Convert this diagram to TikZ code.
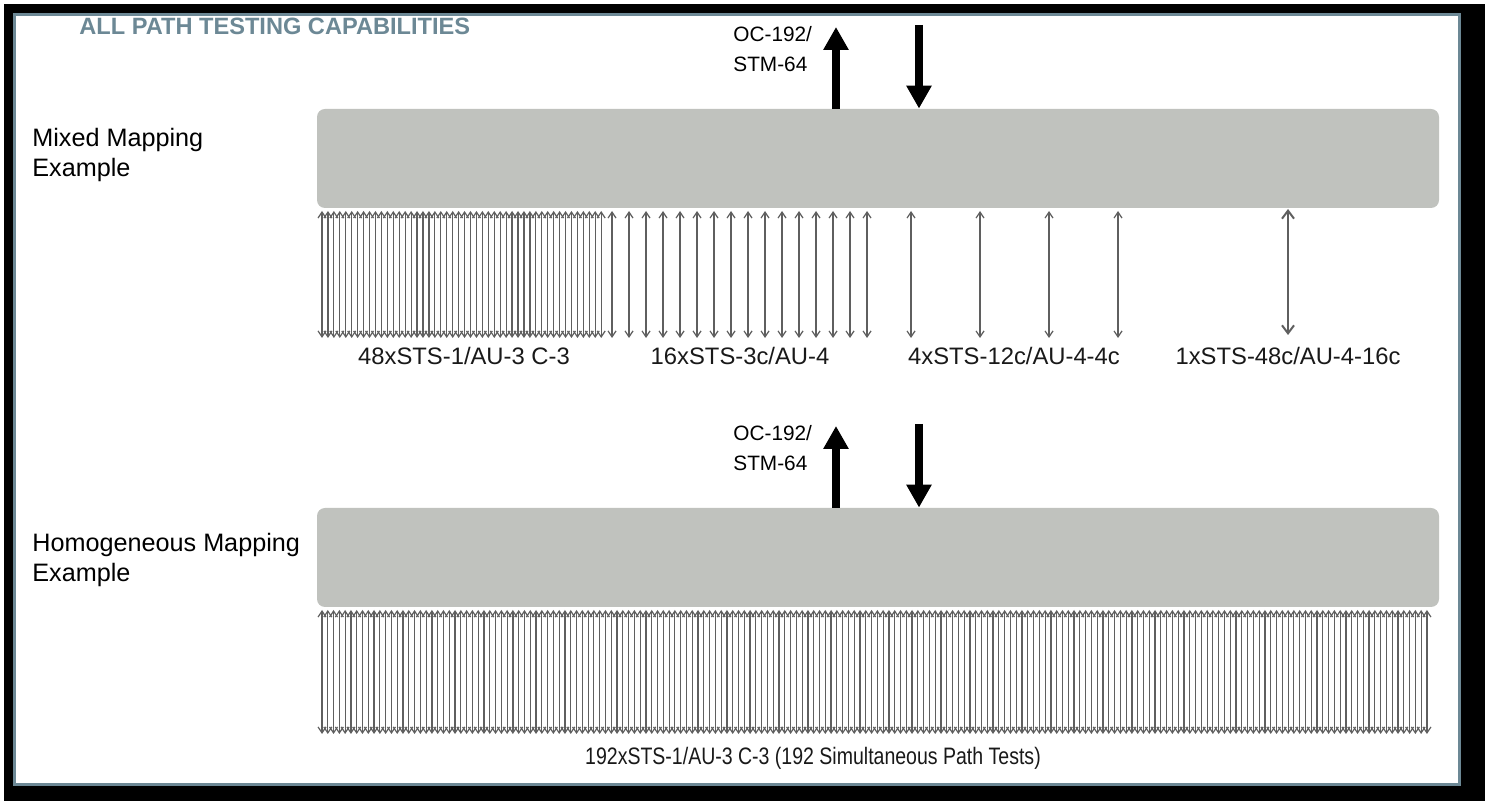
\documentclass[tikz,border=0pt]{standalone}
\usepackage{fontspec}
\setmainfont{Liberation Sans}
\usetikzlibrary{arrows.meta,positioning,calc}
\definecolor{frameslate}{RGB}{108,136,149}
\definecolor{boxgray}{RGB}{192,194,190}
\definecolor{linegray}{RGB}{95,95,95}
\definecolor{inkdark}{RGB}{25,25,25}

\begin{document}
\begin{tikzpicture}[x=0.5pt, y=-0.5pt,
    mapbox/.style={fill=boxgray, rounded corners=4pt, inner sep=0pt,
      minimum width=561pt, minimum height=49.5pt},
    pathline/.style={linegray, line width=0.6pt,
      {Straight Barb[length=3pt,width=4pt]}-{Straight Barb[length=3pt,width=4pt]}},
    bigpath/.style={linegray, line width=1pt,
      {Straight Barb[length=4pt,width=6pt]}-{Straight Barb[length=4pt,width=6pt]}},
    trunk/.style={black, line width=4pt, -{Triangle[width=12pt,length=11.5pt]}},
    lbl/.style={inkdark, inner sep=0pt, font=\fontsize{11.9}{13}\selectfont, anchor=base},
    side/.style={black, inner sep=0pt, font=\fontsize{12.6}{15}\selectfont, align=left, anchor=base west},
    rate/.style={black, inner sep=0pt, font=\fontsize{10.4}{15}\selectfont, align=left, anchor=base west}]
    \useasboundingbox (0,0) rectangle (1485,801);
    % frame
    \fill[black] (4,4) rectangle (1485,801);
    \fill[frameslate] (13,13) rectangle (1461,786);
    \fill[white] (16,16) rectangle (1458,783);
    \node[frameslate, inner sep=0pt, font=\bfseries\fontsize{11.8}{13}\selectfont, anchor=base west]
      (title) at (79,35) {ALL PATH TESTING CAPABILITIES};

    % mixed mapping
    \node[mapbox] (mixbox) at (878,158.5) {};
    \node[side] (mixname) at (32,177) {Mixed Mapping\\Example};
    \node[rate] (mixrate) at (733,72) {OC-192/\\STM-64};
    \coordinate (mixup) at (836,27);
    \coordinate (mixdown) at (919,25);
    \draw[trunk] (mixbox.north -| mixup) -- (mixup);
    \draw[trunk] (mixdown) -- (mixbox.north -| mixdown);
    \foreach \i in {0,...,47}
      \draw[pathline] ({322+5.94*\i},211) -- ({322+5.94*\i},338);
    \foreach \i in {0,...,15}
      \draw[pathline] ({612+17*\i},211) -- ({612+17*\i},338);
    \foreach \x in {911,980,1049,1118}
      \draw[pathline] (\x,211) -- (\x,338);
    \draw[bigpath] (1288,209) -- (1288,335);
    \node[lbl] (lblA) at (464,365) {48xSTS-1/AU-3 C-3};
    \node[lbl] (lblB) at (740,365) {16xSTS-3c/AU-4};
    \node[lbl] (lblC) at (1014,365) {4xSTS-12c/AU-4-4c};
    \node[lbl] (lblD) at (1288,365) {1xSTS-48c/AU-4-16c};

    % homogeneous mapping
    \node[mapbox] (homobox) at (878,557.5) {};
    \node[side] (homoname) at (32,582) {Homogeneous Mapping\\Example};
    \node[rate] (homorate) at (733,471) {OC-192/\\STM-64};
    \coordinate (homoup) at (836,426);
    \coordinate (homodown) at (919,424);
    \draw[trunk] (homobox.north -| homoup) -- (homoup);
    \draw[trunk] (homodown) -- (homobox.north -| homodown);
    \foreach \i in {0,...,191}
      \draw[pathline] ({322+5.785*\i},610) -- ({322+5.785*\i},734);
    \node[lbl] (lblE) at (813,765)
      {\scalebox{0.82}[1]{192xSTS-1/AU-3 C-3 (192 Simultaneous Path Tests)}};
\end{tikzpicture}
\end{document}
